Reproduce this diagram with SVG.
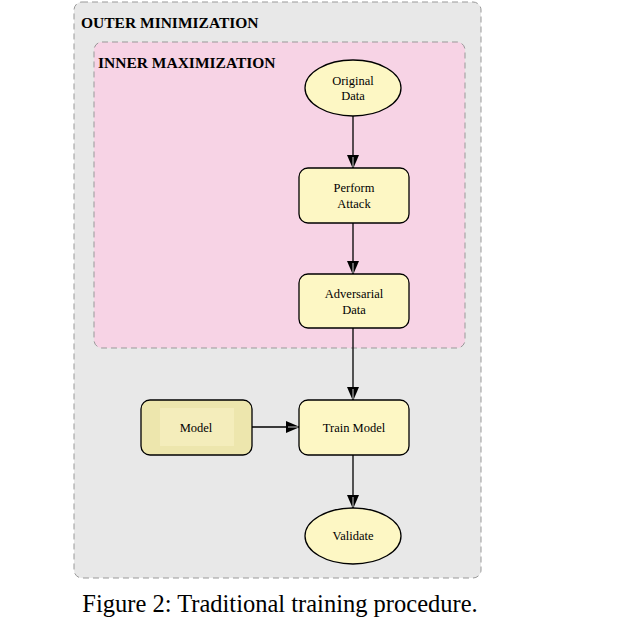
<svg xmlns="http://www.w3.org/2000/svg" width="622" height="640" viewBox="0 0 622 640">
<style>
.t{font-family:"Liberation Serif",serif;font-size:12.5px;fill:#000;text-anchor:middle}
.h{font-family:"Liberation Serif",serif;font-size:15.5px;font-weight:bold;fill:#000}
.n{fill:#fdf7c4;stroke:#000;stroke-width:1.3}
.c{stroke:#000;stroke-width:1.3;fill:none;marker-end:url(#a)}
</style>
<defs>
<marker id="a" markerWidth="16" markerHeight="16" refX="14" refY="8" orient="auto" markerUnits="userSpaceOnUse">
<path d="M1,2 L15,8 L1,14 Z" fill="#000"/>
<path d="M3,8 L13,8" stroke="#fff" stroke-width="0.8"/>
</marker>
</defs>
<rect width="622" height="640" fill="#fff"/>
<g id="outer"><rect x="74" y="2" width="407" height="576" rx="8" fill="#e8e8e8" stroke="#999" stroke-dasharray="6,4"/>
<text class="h" x="81" y="28">OUTER MINIMIZATION</text></g>
<g id="inner"><rect x="94" y="42" width="371" height="306" rx="8" fill="#f7d3e5" stroke="#999" stroke-dasharray="6,4"/>
<text class="h" x="98" y="68">INNER MAXIMIZATION</text></g>
<g id="connectors">
<path class="c" d="M353,116 V168"/>
<path class="c" d="M353,223 V274"/>
<path class="c" d="M353,328 V400"/>
<path class="c" d="M252,427 H299"/>
<path class="c" d="M353,455 V508"/>
</g>
<g id="original"><ellipse class="n" cx="353" cy="88" rx="48" ry="28"/><text class="t" x="353" y="85">Original</text><text class="t" x="353" y="100">Data</text></g>
<g id="attack"><rect class="n" x="299" y="168" width="110" height="55" rx="9"/><text class="t" x="354" y="192">Perform</text><text class="t" x="354" y="208">Attack</text></g>
<g id="adv"><rect class="n" x="299" y="274" width="110" height="54" rx="9"/><text class="t" x="354" y="298">Adversarial</text><text class="t" x="354" y="314">Data</text></g>
<g id="train"><rect class="n" x="299" y="400" width="110" height="55" rx="9"/><text class="t" x="354" y="432">Train Model</text></g>
<g id="model"><rect x="141" y="400" width="111" height="55" rx="9" fill="#ede6ad" stroke="#000" stroke-width="1.3"/><rect x="160" y="408" width="74" height="38" fill="#f4edbb"/><text class="t" x="196" y="432">Model</text></g>
<g id="validate"><ellipse class="n" cx="353" cy="536" rx="48" ry="28"/><text class="t" x="353" y="540">Validate</text></g>
<text x="280" y="612" style="font-family:'Liberation Serif',serif;font-size:24.5px;text-anchor:middle">Figure 2: Traditional training procedure.</text>
</svg>
